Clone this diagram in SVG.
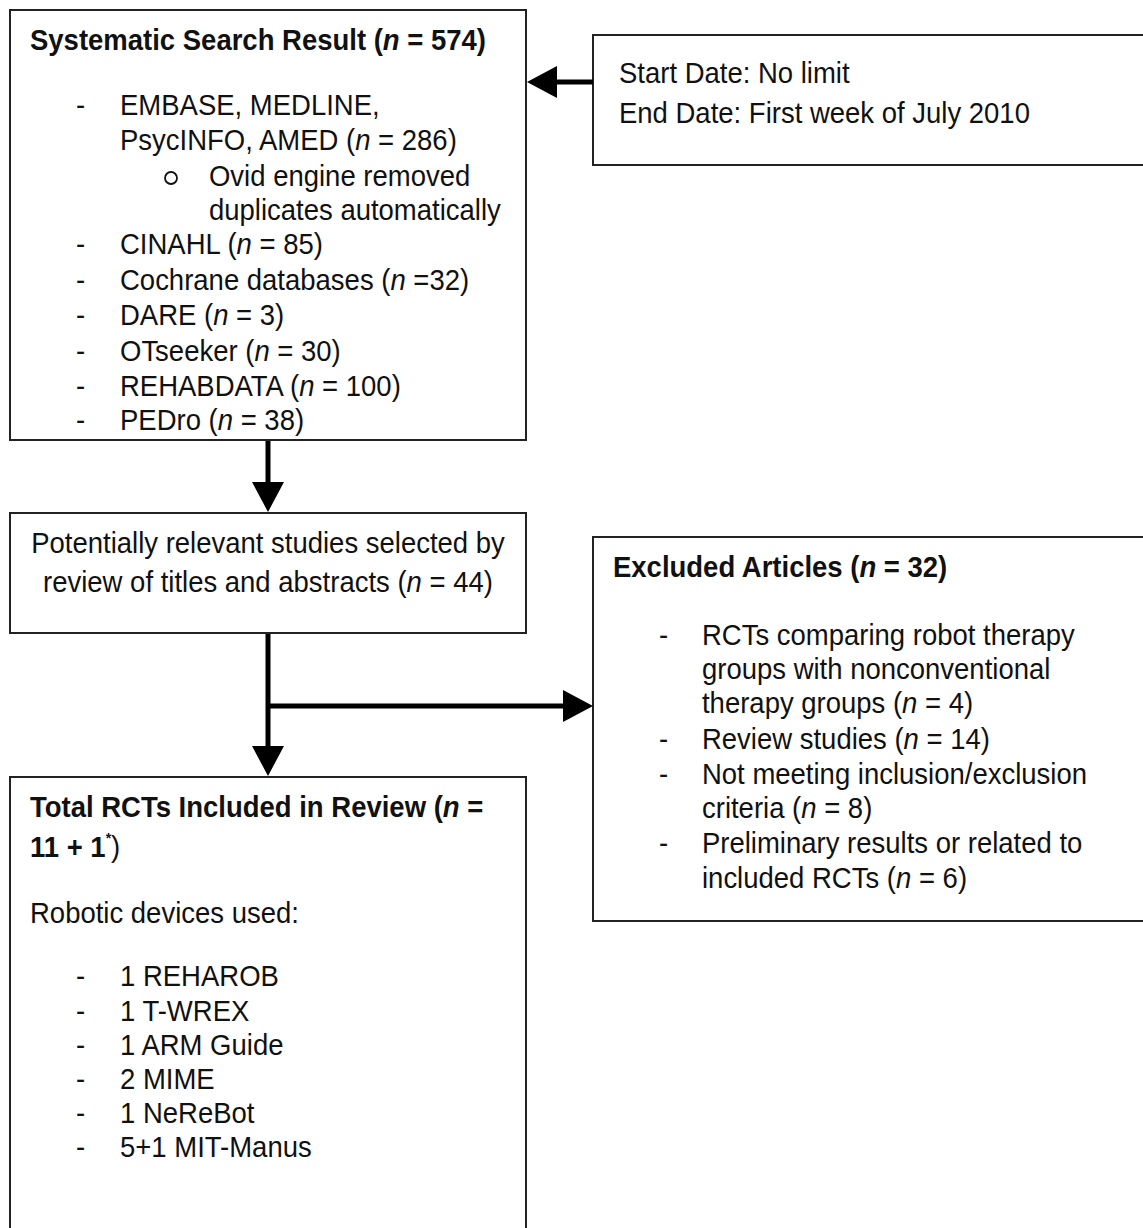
<svg xmlns="http://www.w3.org/2000/svg" width="1143" height="1228" viewBox="0 0 1143 1228">
<style>
  .box { fill: #ffffff; stroke: #222222; stroke-width: 2; }
  text { font-family: "Liberation Sans", Arial, sans-serif; font-size: 27.5px; fill: #111111; }
  .b { font-weight: bold; }
  .i { font-style: italic; }
  .mid { text-anchor: middle; }
  .conn { stroke: #000000; stroke-width: 5; fill: none; }
</style>
<defs>
  <marker id="head" markerUnits="userSpaceOnUse" markerWidth="31" markerHeight="33" refX="0" refY="16" orient="auto" overflow="visible">
    <path d="M0,0 L30,16 L0,32 Z" fill="#000000"/>
  </marker>
</defs>
<rect width="1143" height="1228" fill="#ffffff"/>

<g id="search">
  <rect class="box" x="10" y="10" width="516" height="430"/>
  <circle cx="171" cy="178" r="6" fill="none" stroke="#111111" stroke-width="1.8"/>
  <g transform="scale(1,1.1)">
    <text class="b" x="30" y="45.45">Systematic Search Result (<tspan class="i">n</tspan> = 574)</text>
    <text x="76" y="104.55">-</text><text x="120" y="104.55">EMBASE, MEDLINE,</text>
    <text x="120" y="136.36">PsycINFO, AMED (<tspan class="i">n</tspan> = 286)</text>
    <text x="209" y="169.09">Ovid engine removed</text>
    <text x="209" y="200">duplicates automatically</text>
    <text x="76" y="230.91">-</text><text x="120" y="230.91">CINAHL (<tspan class="i">n</tspan> = 85)</text>
    <text x="76" y="263.64">-</text><text x="120" y="263.64">Cochrane databases (<tspan class="i">n</tspan> =32)</text>
    <text x="76" y="295.45">-</text><text x="120" y="295.45">DARE (<tspan class="i">n</tspan> = 3)</text>
    <text x="76" y="328.18">-</text><text x="120" y="328.18">OTseeker (<tspan class="i">n</tspan> = 30)</text>
    <text x="76" y="360">-</text><text x="120" y="360">REHABDATA (<tspan class="i">n</tspan> = 100)</text>
    <text x="76" y="390.91">-</text><text x="120" y="390.91">PEDro (<tspan class="i">n</tspan> = 38)</text>
  </g>
</g>

<g id="dates">
  <rect class="box" x="593" y="35" width="560" height="130"/>
  <g transform="scale(1,1.1)">
    <text x="619" y="75.45">Start Date: No limit</text>
    <text x="619" y="111.82">End Date: First week of July 2010</text>
  </g>
</g>

<g id="screened">
  <rect class="box" x="10" y="513" width="516" height="120"/>
  <g transform="scale(1,1.1)">
    <text class="mid" x="268" y="502.73">Potentially relevant studies selected by</text>
    <text class="mid" x="268" y="538.18">review of titles and abstracts (<tspan class="i">n</tspan> = 44)</text>
  </g>
</g>

<g id="excluded">
  <rect class="box" x="593" y="537" width="560" height="384"/>
  <g transform="scale(1,1.1)">
    <text class="b" x="613" y="524.55">Excluded Articles (<tspan class="i">n</tspan> = 32)</text>
    <text x="659" y="586.36">-</text><text x="702" y="586.36">RCTs comparing robot therapy</text>
    <text x="702" y="617.27">groups with nonconventional</text>
    <text x="702" y="648.18">therapy groups (<tspan class="i">n</tspan> = 4)</text>
    <text x="659" y="680.91">-</text><text x="702" y="680.91">Review studies (<tspan class="i">n</tspan> = 14)</text>
    <text x="659" y="712.73">-</text><text x="702" y="712.73">Not meeting inclusion/exclusion</text>
    <text x="702" y="743.64">criteria (<tspan class="i">n</tspan> = 8)</text>
    <text x="659" y="775.45">-</text><text x="702" y="775.45">Preliminary results or related to</text>
    <text x="702" y="807.27">included RCTs (<tspan class="i">n</tspan> = 6)</text>
  </g>
</g>

<g id="included">
  <rect class="box" x="10" y="777" width="516" height="470"/>
  <g transform="scale(1,1.1)">
    <text class="b" x="30" y="742.73">Total RCTs Included in Review (<tspan class="i">n</tspan> =</text>
    <text class="b" x="30" y="779.09">11 + 1<tspan font-size="14" dy="-13">*</tspan><tspan dy="13" font-weight="normal">)</tspan></text>
    <text x="30" y="839.09">Robotic devices used:</text>
    <text x="76" y="896.36">-</text><text x="120" y="896.36">1 REHAROB</text>
    <text x="76" y="928.18">-</text><text x="120" y="928.18">1 T-WREX</text>
    <text x="76" y="959.09">-</text><text x="120" y="959.09">1 ARM Guide</text>
    <text x="76" y="990">-</text><text x="120" y="990">2 MIME</text>
    <text x="76" y="1020.91">-</text><text x="120" y="1020.91">1 NeReBot</text>
    <text x="76" y="1051.82">-</text><text x="120" y="1051.82">5+1 MIT-Manus</text>
  </g>
</g>

<g id="connectors">
  <line class="conn" x1="593" y1="82" x2="557" y2="82" marker-end="url(#head)"/>
  <line class="conn" x1="268" y1="441" x2="268" y2="482" marker-end="url(#head)"/>
  <line class="conn" x1="268" y1="634" x2="268" y2="746" marker-end="url(#head)"/>
  <line class="conn" x1="266" y1="706" x2="563" y2="706" marker-end="url(#head)"/>
</g>
</svg>
